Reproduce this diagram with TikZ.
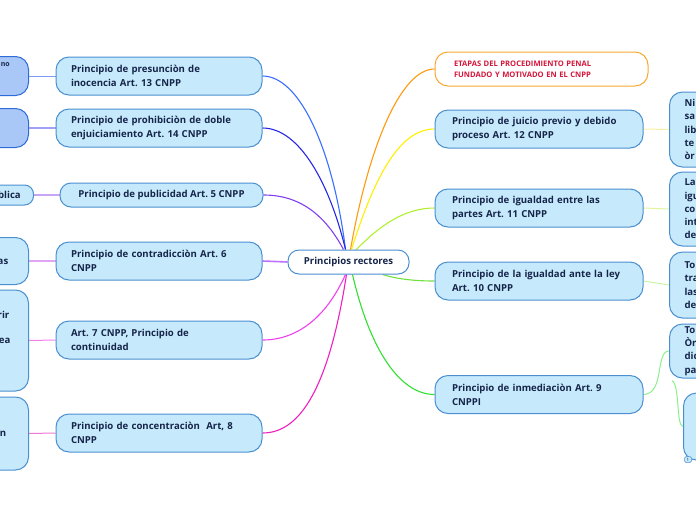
\documentclass[tikz,border=0pt]{standalone}
\usepackage{fontspec}
\setmainfont{Open Sans}
\usetikzlibrary{calc,backgrounds}
\frenchspacing
\definecolor{bfill}{HTML}{C6EAFB}
\definecolor{bdraw}{HTML}{4A8FD0}
\definecolor{dfill}{HTML}{A9C8F7}
\definecolor{ddraw}{HTML}{2F6BD9}
\definecolor{ink}{HTML}{16244A}
\definecolor{etred}{HTML}{D4153B}
\definecolor{etor}{HTML}{F8A830}
\definecolor{cA}{HTML}{3A6FFF}
\definecolor{cB}{HTML}{2626E6}
\definecolor{cC}{HTML}{8040F0}
\definecolor{cD}{HTML}{C070FF}
\definecolor{cE}{HTML}{F040F0}
\definecolor{cF}{HTML}{F020C0}
\definecolor{cG}{HTML}{FF9A10}
\definecolor{cH}{HTML}{FFEE00}
\definecolor{cI}{HTML}{B0F030}
\definecolor{cJ}{HTML}{70E040}
\definecolor{cK}{HTML}{30E030}
\definecolor{sA}{RGB}{122,156,240}
\definecolor{sB}{RGB}{160,160,245}
\definecolor{sC}{RGB}{200,165,245}
\definecolor{sD}{RGB}{225,165,245}
\definecolor{sE}{RGB}{245,125,235}
\definecolor{sF}{RGB}{240,120,210}
\definecolor{sG}{RGB}{248,240,160}
\definecolor{sH}{RGB}{225,245,160}
\definecolor{sI}{RGB}{200,245,165}
\definecolor{sJ}{RGB}{140,240,140}
\tikzset{
  base/.style={rounded corners=13pt, line width=1pt, text=ink, font=\fontsize{9.6}{13.8}\selectfont\bfseries, inner ysep=0pt},
  mbox/.style={base, fill=bfill, draw=bdraw, align=left, inner xsep=15pt, text width=176pt, minimum height=38pt},
  rbox/.style={base, fill=bfill, draw=bdraw, align=left, inner xsep=17pt, text width=174pt, minimum height=38pt},
  pbox/.style={base, fill=bfill, draw=bdraw},
  dbox/.style={base, fill=dfill, draw=ddraw},
  ptext/.style={pbox, anchor=west, align=left, text width=120pt, inner xsep=15pt, font=\fontsize{9.6}{13.3}\selectfont\bfseries},
  frag/.style={text=ink, font=\fontsize{9.6}{13.3}\selectfont\bfseries, inner sep=0pt},
  conn/.style={line width=1.1pt},
  side/.style={line width=1pt},
}
\begin{document}
\begin{tikzpicture}[x=1pt,y=-1pt]
\useasboundingbox (0,0) rectangle (696,520);
\clip (0,0) rectangle (696,520);
% centre
\node[base, fill=white, draw=bdraw, minimum width=121pt, minimum height=24pt, rounded corners=11pt, align=center] (ctr) at (348.5,262) {Principios rectores};
% left main nodes
\node[mbox] (n1) at (159,76) {Principio de presunciòn de\\inocencia Art. 13 CNPP};
\node[mbox] (n2) at (159,128) {Principio de prohibiciòn de doble\\enjuiciamiento Art. 14 CNPP};
\node[base, fill=bfill, draw=bdraw, minimum width=203pt, minimum height=24pt, rounded corners=11pt, align=center] (n3) at (161.5,195) {Principio de publicidad Art. 5 CNPP};
\node[mbox] (n4) at (159,261) {Principio de contradicciòn Art. 6\\CNPP};
\node[mbox] (n5) at (159,340) {Art. 7 CNPP, Principio de\\continuidad};
\node[mbox] (n6) at (159,433) {Principio de concentraciòn\ \ Art, 8\\CNPP};
% left partial nodes
\node[dbox, minimum width=150pt, minimum height=39pt, anchor=east] (la) at (29,76) {};
\node[frag, font=\fontsize{7}{9}\selectfont\bfseries, anchor=east] (lat) at (10,65) {no};
\node[dbox, minimum width=150pt, minimum height=39pt, anchor=east] (lb) at (29,128) {};
\node[pbox, minimum width=150pt, minimum height=20pt, rounded corners=9pt, anchor=east] (lc) at (34,195) {};
\node[frag, anchor=east] (lct) at (21,195) {blica};
\node[pbox, minimum width=150pt, minimum height=47pt, anchor=east] (ld) at (29,261) {};
\node[frag, anchor=east] (ldt) at (8.5,262) {as};
\node[pbox, minimum width=150pt, minimum height=101pt, anchor=east] (le) at (29,340.5) {};
\node[frag, anchor=east] (le1) at (9.5,315) {rir};
\node[frag, anchor=east] (le2) at (10.5,341) {ea};
\node[pbox, minimum width=150pt, minimum height=73pt, anchor=east] (lf) at (29,433.5) {};
\node[frag, anchor=east] (lft) at (6.5,434) {n};
% right main nodes
\node[base, fill=white, draw=etor, text=etred, font=\fontsize{7.6}{11}\selectfont\bfseries, align=left, inner xsep=19pt, text width=175pt, minimum height=34pt] (r0) at (541.5,69) {ETAPAS DEL PROCEDIMIENTO PENAL\\FUNDADO Y MOTIVADO EN EL CNPP};
\node[rbox] (r1) at (539,129) {Principio de juicio previo y debido\\proceso Art. 12 CNPP};
\node[rbox] (r2) at (539,208) {Principio de igualdad entre las\\partes Art. 11 CNPP};
\node[rbox] (r3) at (539,281) {Principio de la igualdad ante la ley\\Art. 10 CNPP};
\node[rbox] (r4) at (539,394.5) {Principio de inmediaciòn Art. 9\\CNPPI};
% right partial nodes
\node[ptext, minimum width=150pt, minimum height=75pt] (ra) at (669,129.5) {Ni\\sa\\lib\\te\\òr};
\node[ptext, minimum width=150pt, minimum height=74pt] (rb) at (669,209) {La\\igu\\co\\int\\de};
\node[ptext, minimum width=150pt, minimum height=66pt] (rc) at (669,285) {To\\tra\\las\\de};
\node[ptext, minimum width=150pt, minimum height=54pt] (rd) at (669,351) {To\\Òr\\dic\\pa};
\node[pbox, minimum width=150pt, minimum height=67pt, anchor=west] (re) at (683,426.5) {};
\node[fill=bfill, draw=bdraw, line width=0.5pt, rounded corners=1.5pt, minimum width=7pt, minimum height=6pt, inner sep=0pt, text=ink, font=\fontsize{4.5}{5}\selectfont] (badge) at (688,459.5) {1};
% hub points
\coordinate (hul) at ($(ctr.north)+(-3,0)$);
\coordinate (hur) at ($(ctr.north)+(2,0)$);
\coordinate (hll) at ($(ctr.south)+(-3,0)$);
\coordinate (hlr) at ($(ctr.south)+(4,0)$);
\coordinate (rdl) at ($(rd.south west)+(3,2)$);
\begin{scope}[on background layer]
% main connectors
\draw[conn, cA] (hul) .. controls (333,150) and (300,76) .. (n1.east);
\draw[conn, cB] (hul) .. controls (330,185) and (300,128) .. (n2.east);
\draw[conn, cC] ($(hul)+(-2,0)$) .. controls (325,215) and (300,195) .. (n3.east);
\draw[line width=1.6pt, cD] (ctr.west) -- (n4.east);
\draw[conn, cE] (hll) .. controls (325,320) and (295,340) .. (n5.east);
\draw[conn, cF] ($(hll)+(1,0)$) .. controls (327,400) and (295,433) .. (n6.east);
\draw[conn, cG] (hur) .. controls (368,150) and (400,69) .. (r0.west);
\draw[conn, cH] ($(hur)+(1,0)$) .. controls (375,175) and (400,129) .. (r1.west);
\draw[conn, cI] ($(hur)+(5,1)$) .. controls (380,225) and (405,208) .. (r2.west);
\draw[conn, cJ] ($(ctr.south east)+(-27,0)$) .. controls (400,280) and (420,281) .. (r3.west);
\draw[conn, cK] (hlr) .. controls (370,350) and (400,394.5) .. (r4.west);
% side connectors
\draw[side, sA] (la.east) -- (n1.west);
\draw[side, line width=1.5pt, sB] (lb.east) -- (n2.west);
\draw[side, line width=1.5pt, sC] (lc.east) -- (n3.west);
\draw[side, line width=1.5pt, sD] (ld.east) -- (n4.west);
\draw[side, sE] (le.east) -- (n5.west);
\draw[side, sF] (lf.east) -- (n6.west);
\draw[side, sG] (r1.east) -- (ra.west);
\draw[side, sH] (r2.east) -- (rb.west);
\draw[side, sI] (r3.east) -- (rc.west);
\draw[side, sJ] (r4.east) .. controls (665,394) and (655,351) .. (rd.west);
\draw[side, sJ] (rdl) .. controls (680,385) and (676,426) .. (re.west);
\end{scope}
\end{tikzpicture}
\end{document}
